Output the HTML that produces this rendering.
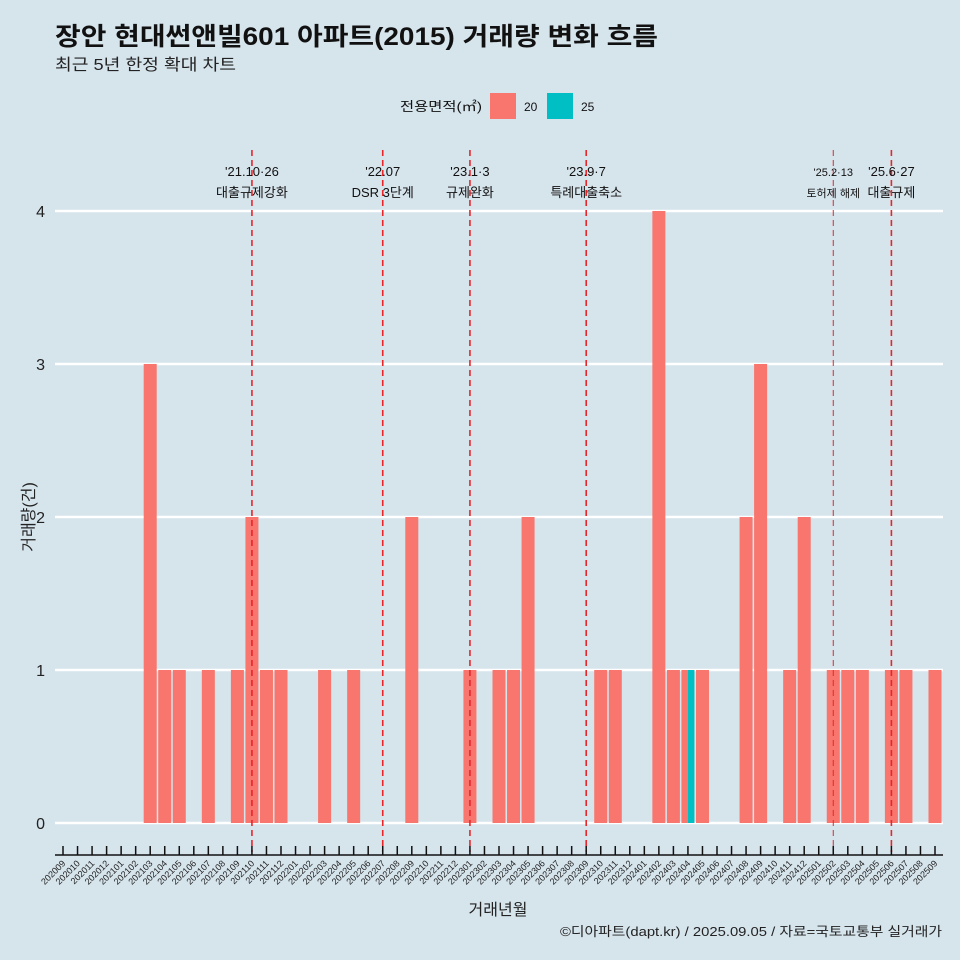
<!DOCTYPE html>
<html><head><meta charset="utf-8"><style>
body{margin:0;background:#d6e4ec;}
svg{display:block;font-family:"Liberation Sans","Noto Sans CJK KR",sans-serif;}
</style></head><body>
<svg id="c" width="960" height="960">
<rect width="960" height="960" fill="#d6e4ec"/>
<text x="55" y="45" font-size="25" font-weight="bold" fill="#111" textLength="603" lengthAdjust="spacingAndGlyphs">장안 현대썬앤빌601 아파트(2015) 거래량 변화 흐름</text>
<text x="55" y="70" font-size="16" fill="#222" textLength="181" lengthAdjust="spacingAndGlyphs">최근 5년 한정 확대 차트</text>
<g>
<text x="400" y="111" font-size="13" fill="#111" textLength="82" lengthAdjust="spacingAndGlyphs">전용면적(㎡)</text>
<rect x="490" y="93" width="26" height="26" fill="#f8766d"/>
<text x="524" y="111" font-size="12" fill="#111">20</text>
<rect x="547" y="93" width="26" height="26" fill="#00bfc4"/>
<text x="581" y="111" font-size="12" fill="#111">25</text>
</g>
<g id="grid"></g><g id="bars"></g><g id="events"></g><g id="axes"></g>
<text x="498" y="915" font-size="16" text-anchor="middle" fill="#222">거래년월</text>
<text transform="translate(34,517) rotate(-90)" font-size="16" text-anchor="middle" fill="#222">거래량(건)</text>
<text x="942" y="936" font-size="13" text-anchor="end" fill="#222" textLength="382" lengthAdjust="spacingAndGlyphs">©디아파트(dapt.kr) / 2025.09.05 / 자료=국토교통부 실거래가</text>
</svg>
<script>
const months=[];for(let y=2020,m=9;!(y===2025&&m===10);){months.push(''+y+(m<10?'0':'')+m);m++;if(m>12){m=1;y++;}}
const barMonths20=['202103','202104','202105','202107','202109','202110','202111','202112','202203','202205','202209','202301','202303','202304','202305','202310','202311','202402','202403','202404','202405','202408','202409','202411','202412','202502','202503','202504','202506','202507','202509'];
const barValues20=[3,1,1,1,1,2,1,1,1,1,2,1,1,1,2,1,1,4,1,1,1,2,3,1,2,1,1,1,1,1,1];
const barMonths25=['202404'];
const barValues25=[1];
const yTicks=[0,1,2,3,4];
const eventMonths=['202110','202207','202301','202309','202502','202506'];
const eventDates=["'21.10·26","'22.07","'23.1·3","'23.9·7","'25.2·13","'25.6·27"];
const eventLabels=['대출규제강화','DSR 3단계','규제완화','특례대출축소','토허제 해제','대출규제'];
const NS='http://www.w3.org/2000/svg';
const x0=63,step=(935-63)/60,y0=823,yu=153,bw=13;
const X=m=>x0+months.indexOf(m)*step;
const Y=v=>y0-v*yu;
function mk(t,a,p){const e=document.createElementNS(NS,t);for(const k in a)e.setAttribute(k,a[k]);p.appendChild(e);return e;}
const g=document.getElementById('grid'),b=document.getElementById('bars'),ev=document.getElementById('events'),ax=document.getElementById('axes');
yTicks.forEach(v=>{
 const l=mk('line',{x1:55,x2:943,y1:Y(v),y2:Y(v),stroke:'#fff','stroke-width':2.5},g);
 
 
 const t=mk('text',{x:45,y:Y(v)+6,'font-size':16,'text-anchor':'end',fill:'#222'},ax);t.textContent=v;
 
 
});
barMonths20.forEach((m,i)=>{
 const dodge=barMonths25.includes(m);
 const w=dodge?bw/2:bw, x=X(m)-bw/2;
 const r=mk('rect',{x:x,y:Y(barValues20[i]),width:w,height:barValues20[i]*yu,fill:'#f8766d'},b);
 
 
});
barMonths25.forEach((m,i)=>{
 const r=mk('rect',{x:X(m),y:Y(barValues25[i]),width:bw/2,height:barValues25[i]*yu,fill:'#00bfc4'},b);
 
 
});
eventMonths.forEach((m,i)=>{
 const x=X(m);
 const l=mk('line',{x1:x,x2:x,y1:150,y2:852,stroke:'#e8262a','stroke-width':i===4?1:1.6,'stroke-dasharray':'6,4'},ev);
 
 
 const fs=i===4?11:13;
 const t1=mk('text',{x:x,y:176,'font-size':fs,'text-anchor':'middle',fill:'#111'},ev);t1.textContent=eventDates[i];
 
 
 const t2=mk('text',{x:x,y:197,'font-size':fs,'text-anchor':'middle',fill:'#111'},ev);t2.textContent=eventLabels[i];
 
 
});
const al=mk('line',{x1:55,x2:943,y1:855,y2:855,stroke:'#111','stroke-width':1.5},ax);


months.forEach(m=>{
 const x=X(m);
 const tk=mk('line',{x1:x,x2:x,y1:846,y2:855,stroke:'#111','stroke-width':1.5},ax);
 
 
 const t=mk('text',{x:x+3,y:864,'font-size':9,'text-anchor':'end',fill:'#222',transform:`rotate(-45 ${x+3} 864)`},ax);t.textContent=m;
 
 
});
</script>
</body></html>
